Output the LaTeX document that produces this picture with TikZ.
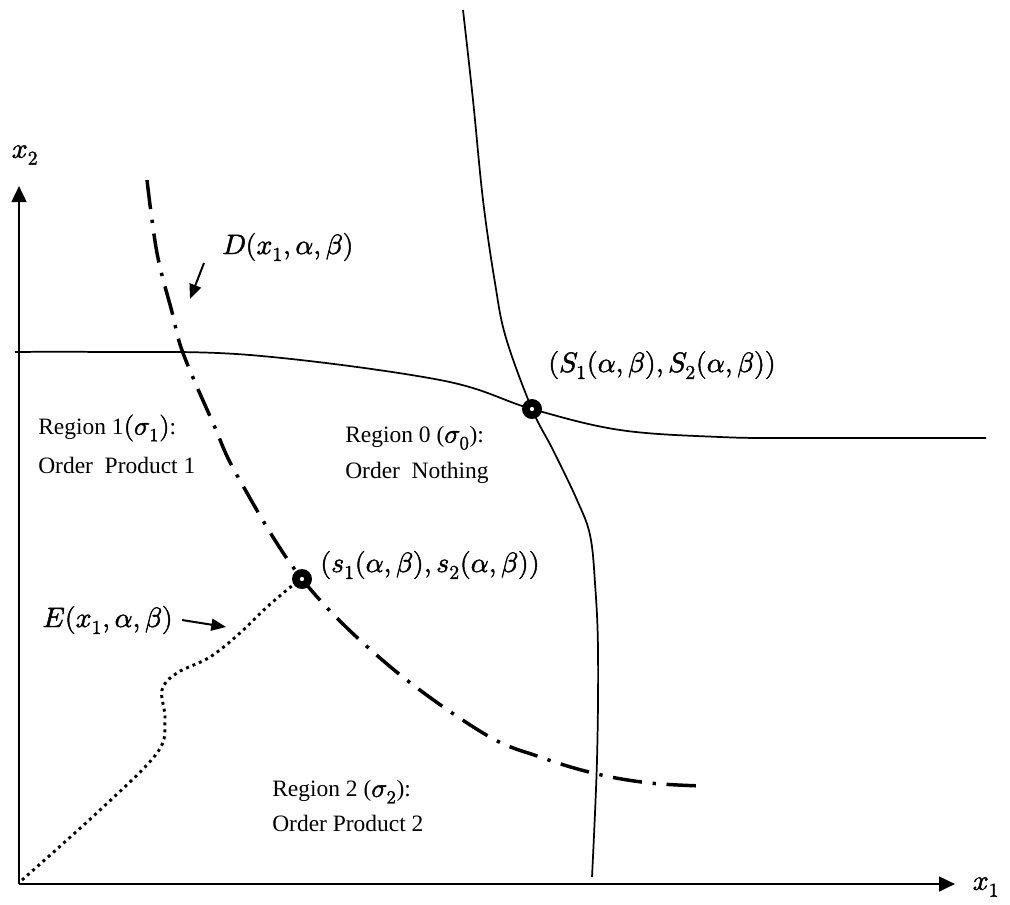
\documentclass[tikz,border=0pt]{standalone}
\usepackage{fontspec}
\usepackage{unicode-math}
\setmainfont{Liberation Serif}
\setmathfont{Latin Modern Math}[FakeBold=1.6]
\usetikzlibrary{arrows.meta}
\begin{document}
\begin{tikzpicture}[x=0.75pt,y=-0.75pt,
  axisline/.style={line width=2pt,-{Triangle[length=12pt,width=11pt]}},
  solidcurve/.style={line width=1.3pt},
  dashdot/.style={line width=2.6pt,dash pattern=on 22pt off 8pt on 2.5pt off 8pt},
  dottedcurve/.style={line width=2.2pt,dash pattern=on 2.2pt off 3pt},
  pointer/.style={line width=1.5pt,-{Triangle[length=11pt,width=9pt]}},
  marker/.style={circle,fill=black,minimum size=15pt,inner sep=0pt},
  mathlabel/.style={font=\fontsize{21}{24}\selectfont,inner sep=0pt},
  regionlabel/.style={font=\fontsize{17.6}{20}\selectfont,inner sep=0pt,anchor=west}]
\useasboundingbox (0,0) rectangle (1010,904);

% axes
\coordinate (O) at (19,884);
\coordinate (Ytip) at (19,186);
\coordinate (Xtip) at (955,884);
\draw[axisline] (O) -- (Ytip);
\draw[axisline] (O) -- (Xtip);
\node[mathlabel] (x2) at (25,155) {$x_2$};
\node[mathlabel] (x1) at (986,887) {$x_1$};

% solid curves
\draw[solidcurve] plot[smooth,tension=0.6] coordinates {(15,352) (100,352) (250,355) (440,380) (532,409) (620,430) (720,437) (800,438) (986,438)};
\draw[solidcurve] plot[smooth,tension=0.6] coordinates {(463,10) (473,100) (483,200) (495,283) (506,338) (532,409) (553,450) (577,500) (590,535) (595,583) (598,650) (597,760) (592,877)};

% D curve (dash-dot)
\draw[dashdot] plot[smooth,tension=0.6] coordinates {(147,180) (157,253) (172,312) (183,353) (213,423) (238,477) (302,579) (387,664) (483,733) (540,757) (597,774) (650,783) (703,786)};

% E curve (dotted)
\draw[dottedcurve] plot[smooth,tension=0.6] coordinates {(22,880) (100,810) (157,753) (165,720) (162,690) (177,673) (210,657) (240,633) (267,607) (293,585) (302,579)};

% markers
\node[marker] (S) at (532,409) {};
\fill[white] (S) circle (1.6pt);
\node[marker] (s) at (302,579) {};
\fill[white] (s) circle (1.6pt);

% labels
\node[mathlabel,anchor=west] (Slab) at (548,365) {$(S_1(\alpha,\beta),S_2(\alpha,\beta))$};
\node[mathlabel,anchor=west] (slab) at (320,565) {$(s_1(\alpha,\beta),s_2(\alpha,\beta))$};
\node[mathlabel,anchor=west] (Dlab) at (222,247) {$D(x_1,\alpha,\beta)$};
\node[mathlabel,anchor=east] (Elab) at (173,620) {$E(x_1,\alpha,\beta)$};

% pointer arrows
\coordinate (Dtail) at (204,263);
\coordinate (Dtip) at (190,299);
\draw[pointer] (Dtail) -- (Dtip);
\coordinate (Etail) at (182,620);
\coordinate (Etip) at (226,627);
\draw[pointer] (Etail) -- (Etip);

% region texts
\node[regionlabel] (r1a) at (38,428) {Region 1{\fontsize{20}{20}\selectfont$(\sigma_1)$}:};
\node[regionlabel] (r1b) at (38,465) {Order\ \ Product 1};
\node[regionlabel] (r0a) at (345,438) {Region 0 ({\fontsize{20}{20}\selectfont$\sigma_0$}):};
\node[regionlabel] (r0b) at (345,473) {Order\ \ Nothing};
\node[regionlabel] (r2a) at (272,792) {Region 2 ({\fontsize{20}{20}\selectfont$\sigma_2$}):};
\node[regionlabel] (r2b) at (272,823) {Order Product 2};
\end{tikzpicture}
\end{document}
